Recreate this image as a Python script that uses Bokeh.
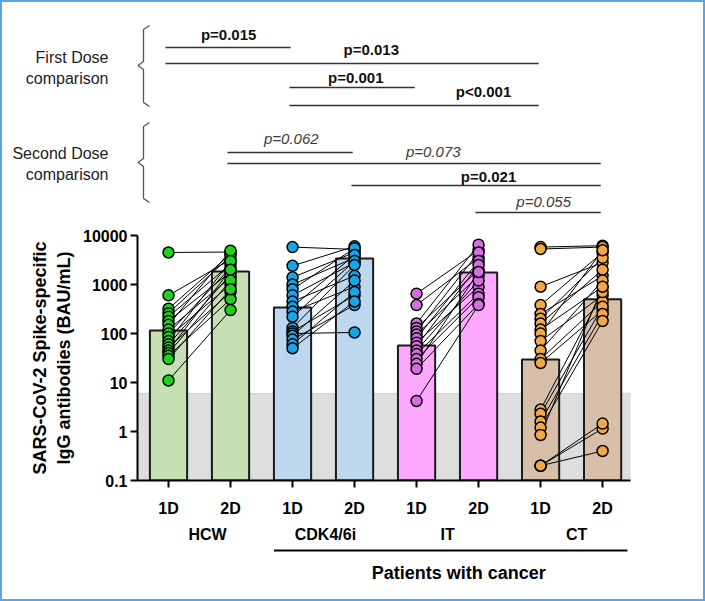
import numpy as np
from bokeh.plotting import figure
from bokeh.layouts import column
from bokeh.models import Range1d, FixedTicker, BoxAnnotation
from bokeh.core.properties import value
from bokeh.embed import file_html
from bokeh.resources import INLINE

# ---------------- data ----------------
groups = ["HCW", "CDK4/6i", "IT", "CT"]
doses = ["1D", "2D"]

hcw_1d = [4500, 600, 320, 260, 220, 180, 150, 120, 100, 85, 70, 60, 52, 45, 40, 35, 30, 11]
hcw_2d = [4600, 3200, 4200, 3800, 2600, 1800, 4900, 1400, 2200, 1000, 3000, 1600, 700, 2000, 1200, 500, 800, 300]

cdk_1d = [5800, 2400, 1400, 1000, 800, 600, 450, 350, 280, 220, 130, 110, 100, 90, 75, 60, 50]
cdk_2d = [5200, 6000, 4500, 3500, 5500, 2800, 1500, 4000, 900, 3000, 2500, 600, 105, 1200, 380, 700, 450]

it_1d = [650, 380, 160, 130, 110, 95, 80, 65, 55, 45, 38, 30, 24, 19, 4.2]
it_2d = [5000, 3500, 6500, 2000, 4500, 1500, 3000, 900, 2500, 1200, 650, 550, 1800, 400, 380]

ct_1d = [5800, 5300, 900, 380, 250, 200, 160, 120, 100, 70, 45, 30, 25, 2.8, 2.3, 1.6, 1.2, 0.85, 0.2, 0.2, 0.2]
ct_2d = [6200, 5800, 2800, 4500, 1500, 3500, 2000, 900, 5000, 600, 1200, 450, 300, 700, 350, 250, 180, 900, 1.15, 0.4, 1.45]

bar_hcw = [115, 1850]
bar_cdk = [340, 3400]
bar_it = [57, 1760]
bar_ct = [29.5, 500]

lod = 6  # detection limit band

comp_from = [0, 0, 2, 2, 1, 1, 3, 5]
comp_to = [2, 6, 4, 6, 3, 7, 7, 7]
comp_p = ["p=0.015", "p=0.013", "p=0.001", "p<0.001", "p=0.062", "p=0.073", "p=0.021", "p=0.055"]
comp_bold = [True, True, True, True, False, False, True, False]

side_labels = ["First Dose", "comparison", "Second Dose", "comparison"]

# ---------------- layout / style ----------------
FONT = "Liberation Sans"
W = 689
XPX0, XSTEP = 168, 62          # page px of first category, px per category
def px2cat(x):
    return (x - XPX0) / XSTEP

XR = Range1d(-0.5, 7.45)
BL, BR = 137, W - 630

bar_fill = ["#C6E0B4", "#BDD7EE", "#FFA8FF", "#D7BFA9"]
pt_fill = ["#1ED21E", "#1AA3E6", "#D36FE0", "#F2A74A"]

line_y = [47, 63, 87, 105, 152, 163, 185, 212]
label_x = [0.97, 3.27, 3.02, 5.08, 1.98, 4.27, 5.16, 6.05]
label_y = [34, 49, 77, 91, 138, 151, 176, 201]
side_y = [57, 78, 153, 174]

def base_fig(h, yr, **kw):
    f = figure(width=W, height=h, x_range=XR, y_range=yr, toolbar_location=None,
               output_backend="svg", min_border_left=BL, min_border_right=BR, **kw)
    f.grid.visible = False
    f.outline_line_color = None
    f.border_fill_color = None
    f.background_fill_color = None
    return f

# ---------------- top: comparisons ----------------
top = base_fig(222, Range1d(222, 0), x_axis_location=None, min_border_top=0, min_border_bottom=0)

top.segment(x0=[f - 0.05 for f in comp_from], x1=[t - 0.03 for t in comp_to],
            y0=line_y, y1=line_y, line_color="#333333", line_width=1.3)
for i in range(len(comp_p)):
    top.text(x=[label_x[i]], y=[label_y[i]], text=[comp_p[i]], text_align="center",
             text_baseline="middle", text_font=value(FONT), text_font_size="15px",
             text_font_style="bold" if comp_bold[i] else "italic",
             text_color="#111111" if comp_bold[i] else "#3a3a3a")

for (yt, ym, yb) in [(25, 65, 106), (122, 162, 202)]:
    xs = [px2cat(v) for v in [149, 143, 143, 137.5, 143, 143, 149]]
    ys = [yt, yt + 4, ym - 4, ym, ym + 4, yb - 4, yb]
    top.line(xs, ys, line_color="#555555", line_width=1.3)

ty = top.yaxis[0]
ty.ticker = FixedTicker(ticks=side_y)
ty.major_label_overrides = {y: s for y, s in zip(side_y, side_labels)}
ty.axis_line_color = None
ty.major_tick_line_color = None
ty.minor_tick_line_color = None
ty.major_label_standoff = 23
ty.major_label_text_font = FONT
ty.major_label_text_font_size = "16px"
ty.major_label_text_color = "#222222"

# ---------------- main chart ----------------
main = base_fig(298, Range1d(0.1, 10000), y_axis_type="log",
                min_border_top=13, min_border_bottom=40)

main.add_layout(BoxAnnotation(top=lod, fill_color="#DEDEDE", fill_alpha=1.0,
                              line_color="#9A9A9A", line_width=1, level="underlay"))

bar_tops = bar_hcw + bar_cdk + bar_it + bar_ct
xpos = list(range(8))
main.vbar(x=xpos, top=bar_tops, bottom=0.1, width=0.6,
          fill_color=[c for c in bar_fill for _ in doses], line_color="#1A1A1A", line_width=2)

pairs = [(hcw_1d, hcw_2d), (cdk_1d, cdk_2d), (it_1d, it_2d), (ct_1d, ct_2d)]
for g, (a, b) in enumerate(pairs):
    main.segment(x0=[2 * g] * len(a), y0=a, x1=[2 * g + 1] * len(b), y1=b,
                 line_color="black", line_width=1)
for g, (a, b) in enumerate(pairs):
    main.scatter(x=[2 * g] * len(a) + [2 * g + 1] * len(b), y=a + b, size=11,
                 fill_color=pt_fill[g], line_color="black", line_width=1.5)

ya = main.yaxis[0]
ya.ticker = FixedTicker(ticks=[0.1, 1, 10, 100, 1000, 10000])
ya.major_label_overrides = {0.1: "0.1", 1: "1", 10: "10", 100: "100", 1000: "1000", 10000: "10000"}
ya.axis_label = "SARS-CoV-2 Spike-specific\nIgG antibodies (BAU/mL)"
ya.axis_label_text_font = FONT
ya.axis_label_text_font_size = "18px"
ya.axis_label_text_font_style = "bold"
ya.axis_label_text_color = "black"
ya.axis_label_standoff = 6
ya.minor_tick_line_color = None

xa = main.xaxis[0]
xa.ticker = FixedTicker(ticks=xpos)
xa.major_label_overrides = {i: doses[i % 2] for i in xpos}
xa.major_label_standoff = 12

for ax in (xa, ya):
    ax.axis_line_width = 2
    ax.axis_line_color = "black"
    ax.major_tick_line_width = 2
    ax.major_tick_line_color = "black"
    ax.major_tick_in = 0
    ax.major_tick_out = 7
    ax.major_label_text_font = FONT
    ax.major_label_text_font_size = "16px"
    ax.major_label_text_font_style = "bold"
    ax.major_label_text_color = "black"
ya.major_label_standoff = 3

# ---------------- bottom: group labels ----------------
bot = base_fig(65, Range1d(585, 520), x_axis_location=None, y_axis_location=None,
               min_border_top=0, min_border_bottom=0)

group_x = [0.63, 2.53, 4.5, 6.58]
bot.text(x=group_x, y=[534] * 4, text=groups, text_align="center", text_baseline="middle",
         text_font=value(FONT), text_font_size="16px", text_font_style="bold", text_color="black")
bot.segment(x0=[2 - 0.3], x1=[7.4], y0=[550], y1=[550], line_color="black", line_width=2)
bot.text(x=[4.68], y=[572], text=["Patients with cancer"], text_align="center", text_baseline="middle",
         text_font=value(FONT), text_font_size="18px", text_font_style="bold", text_color="black")

C = "#5AA5E6"
shadow = (f"inset 2px 2px 0 0 {C}, 14px 14px 0 0 white, 14px 2px 0 0 white, "
          f"2px 14px 0 0 white, 16px 16px 0 0 {C}, 16px 0 0 0 {C}, 0 16px 0 0 {C}")
layout = column(top, main, bot, spacing=0, styles={"box-shadow": shadow})

open("out.html", "w").write(file_html(layout, INLINE))
